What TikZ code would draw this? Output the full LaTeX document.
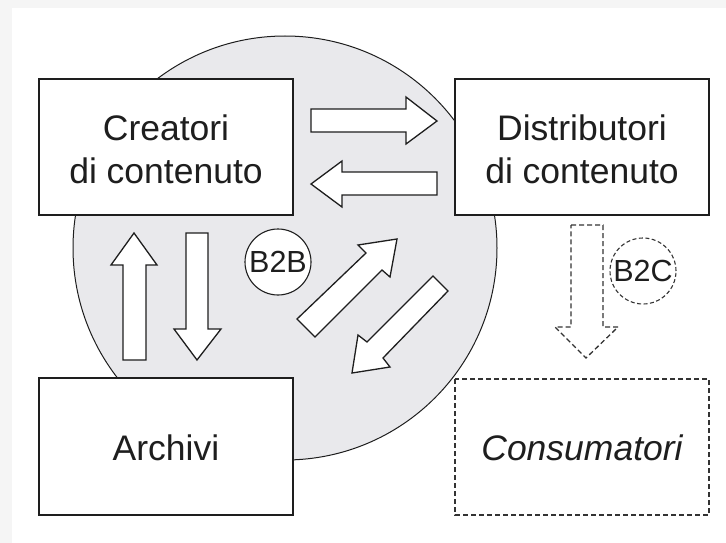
\documentclass[tikz,border=0pt]{standalone}
\usepackage{fontspec}
\setmainfont{Liberation Sans}
\definecolor{discgrey}{RGB}{233,233,236}
\definecolor{inkgrey}{RGB}{30,30,30}
\begin{document}
\begin{tikzpicture}[x=1pt,y=-1pt,
  txt/.style={text=inkgrey, font=\fontsize{35.5}{43}\selectfont, align=center},
  boxsolid/.style={draw=inkgrey, line width=2pt, fill=white},
  boxdash/.style={draw=black!80, line width=1.4pt, dash pattern=on 5pt off 3pt, fill=white},
  blockarrow/.style={draw=inkgrey, line width=1.3pt, fill=white, line join=miter},
  dasharrow/.style={draw=black!80, line width=1.3pt, fill=white, dash pattern=on 5pt off 3pt},
  tagcircle/.style={circle, draw=inkgrey, line width=1.1pt, fill=white, minimum size=66pt, inner sep=0pt, text=inkgrey, font=\fontsize{30.5}{32}\selectfont}]
\useasboundingbox (0,0) rectangle (726,543);
\fill[black!4] (0,0) rectangle (726,543);
\fill[white] (12,8) rectangle (726,543);
% big grey disc
\draw[fill=discgrey, draw=inkgrey, line width=1pt] (285,248) circle (212);
% boxes
\draw[boxsolid] (39,79) rectangle (293,215);
\draw[boxsolid] (455,79) rectangle (709,215);
\draw[boxsolid] (39,378) rectangle (293,515);
\draw[boxdash] (455,379) rectangle (709,515);
\node[txt] (creatori) at (166,149) {Creatori\\di contenuto};
\node[txt] (distributori) at (582,149) {Distributori\\di contenuto};
\node[txt] (archivi) at (166,448) {Archivi};
\node[txt, font=\fontsize{35.5}{43}\selectfont\itshape] (consumatori) at (582,448) {Consumatori};
% horizontal block arrows
\draw[blockarrow] (311,109) -- (406,109) -- (406,97) -- (437,121) -- (406,144) -- (406,132) -- (311,132) -- cycle;
\draw[blockarrow] (437,172) -- (342,172) -- (342,161) -- (311,184) -- (342,207) -- (342,195) -- (437,195) -- cycle;
% vertical block arrows
\draw[blockarrow] (123,360) -- (123,265) -- (111,265) -- (134,233) -- (157,265) -- (146,265) -- (146,360) -- cycle;
\draw[blockarrow] (186,233) -- (186,329) -- (174,329) -- (197,360) -- (221,329) -- (208,329) -- (208,233) -- cycle;
% diagonal block arrows
\draw[blockarrow] (297,319) -- (366,253) -- (358,245) -- (397,239) -- (390,277) -- (382,270) -- (315,337) -- cycle;
\draw[blockarrow] (448,291) -- (383,358) -- (390,367) -- (352,373) -- (358,335) -- (367,342) -- (433,276) -- cycle;
% dashed arrow
\draw[dasharrow] (571,225) -- (603,225) -- (603,327) -- (618,327) -- (586,358) -- (555,327) -- (571,327) -- cycle;
% tags
\node[tagcircle] (b2b) at (278,262) {B2B};
\node[tagcircle, draw=black!80, dash pattern=on 4pt off 2.5pt] (b2c) at (643,271) {B2C};
\end{tikzpicture}
\end{document}
